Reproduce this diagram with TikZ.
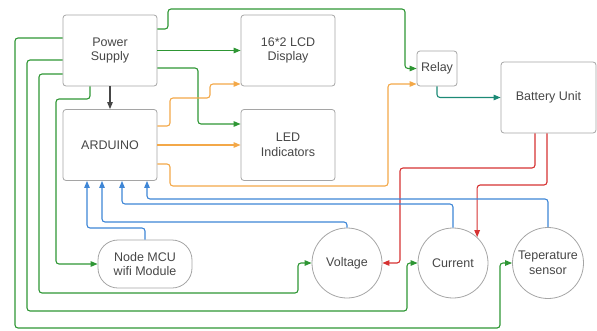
\documentclass[tikz,border=0pt]{standalone}
\usepackage{fontspec}
\setmainfont{Liberation Sans}
\usetikzlibrary{arrows.meta, positioning, calc}
\definecolor{wiregreen}{RGB}{46, 150, 52}
\definecolor{wireorange}{RGB}{243, 168, 72}
\definecolor{wireblue}{RGB}{62, 134, 214}
\definecolor{wirered}{RGB}{214, 50, 50}
\definecolor{wireteal}{RGB}{28, 138, 118}
\definecolor{boxgray}{RGB}{165, 165, 165}
\definecolor{textgray}{RGB}{70, 70, 70}

\begin{document}
\begin{tikzpicture}[x=1pt, y=-1pt,
  block/.style={rectangle, rounded corners=3pt, draw=boxgray, line width=0.8pt,
    minimum width=94pt, minimum height=71pt, align=center, text=textgray,
    font=\fontsize{12.5}{14.5}\selectfont},
  sensor/.style={circle, draw=boxgray, line width=0.8pt, minimum size=70pt,
    inner sep=0pt, align=center, text=textgray, font=\fontsize{12.5}{14.5}\selectfont},
  wire/.style={line width=1.1pt, rounded corners=3pt, -{Triangle[length=7pt, width=5.5pt]}}]

  \useasboundingbox (0,0) rectangle (597,330);

  % ===== 方块 =====
  \node[block] (ps)  at (110, 50.5)  {Power\\Supply};
  \node[block] (lcd) at (288, 50.5)  {16*2 LCD\\Display};
  \node[block] (ard) at (110, 145)   {ARDUINO};
  \node[block] (led) at (288, 145)   {LED\\Indicators};
  \node[block, minimum width=40pt, minimum height=35pt, inner sep=1pt] (relay) at (437, 68.5) {Relay};
  \node[block, minimum width=95pt] (bat) at (548.5, 97.5) {Battery Unit};
  \node[block, minimum height=48pt, rounded corners=20pt] (mcu) at (145, 264) {Node MCU\\wifi Module};

  % ===== 传感器 =====
  \node[sensor] (volt) at (347, 263) {Voltage};
  \node[sensor] (curr) at (453, 263) {Current};
  \node[sensor, minimum size=71pt] (temp) at (548, 263) {Teperature\\sensor};

  % 电源线
  \draw[wire, wiregreen] (ps.east) -- (lcd.west);
  \draw[wire, wiregreen] ($(ps.east)+(0,17.5)$) -| (198,124) -- ($(led.west)+(0,-21)$);
  \draw[wire, wiregreen] ($(ps.east)+(0,-21.5)$) -- (168,29) |- (405,9) |- (relay.west);
  \draw[wire, textgray] (ps.south) -- (ard.north);
  \draw[wire, wiregreen] ($(ps.south)+(-20,0)$) |- (56,99) |- (mcu.west);
  \draw[wire, wiregreen] ($(ps.west)+(0,-12.5)$) -| (15,328) -| (500,263) -- (temp.west);
  \draw[wire, wiregreen] ($(ps.west)+(0,9.5)$) -| (27,311) -| (407,263) -- (curr.west);
  \draw[wire, wiregreen] ($(ps.west)+(0,23.5)$) -| (39,293) -| (298,263) -- (volt.west);

  % 控制线
  \draw[wire, wireorange] ($(ard.east)+(0,-19)$) -| (170,98) -| (210,84) -- ($(lcd.west)+(0,33.5)$);
  \draw[wire, wireorange] (ard.east) -- (led.west);
  \draw[wire, wireorange] ($(ard.east)+(0,19)$) -| (170,186) -| (388,84) -- ($(relay.west)+(0,15.5)$);
  \draw[wire, wireteal] (relay.south) |- (bat.west);

  % 电池测量
  \draw[wire, wirered] ($(bat.south)+(-13.5,0)$) |- (400,168) |- (volt.east);
  \draw[wire, wirered] ($(bat.south)+(-1.5,0)$) |- (curr.47 |- 0,185) -- (curr.47);

  % 信号线
  \draw[wire, wireblue] (mcu.north) |- (87,228) -- ($(ard.south)+(-23,0)$);
  \draw[wire, wireblue] (volt.north) |- (102,222) -- ($(ard.south)+(-8,0)$);
  \draw[wire, wireblue] (curr.north) |- (122,204) -- ($(ard.south)+(12,0)$);
  \draw[wire, wireblue] (temp.north) |- (147,199) -- ($(ard.south)+(37,0)$);

\end{tikzpicture}
\end{document}
